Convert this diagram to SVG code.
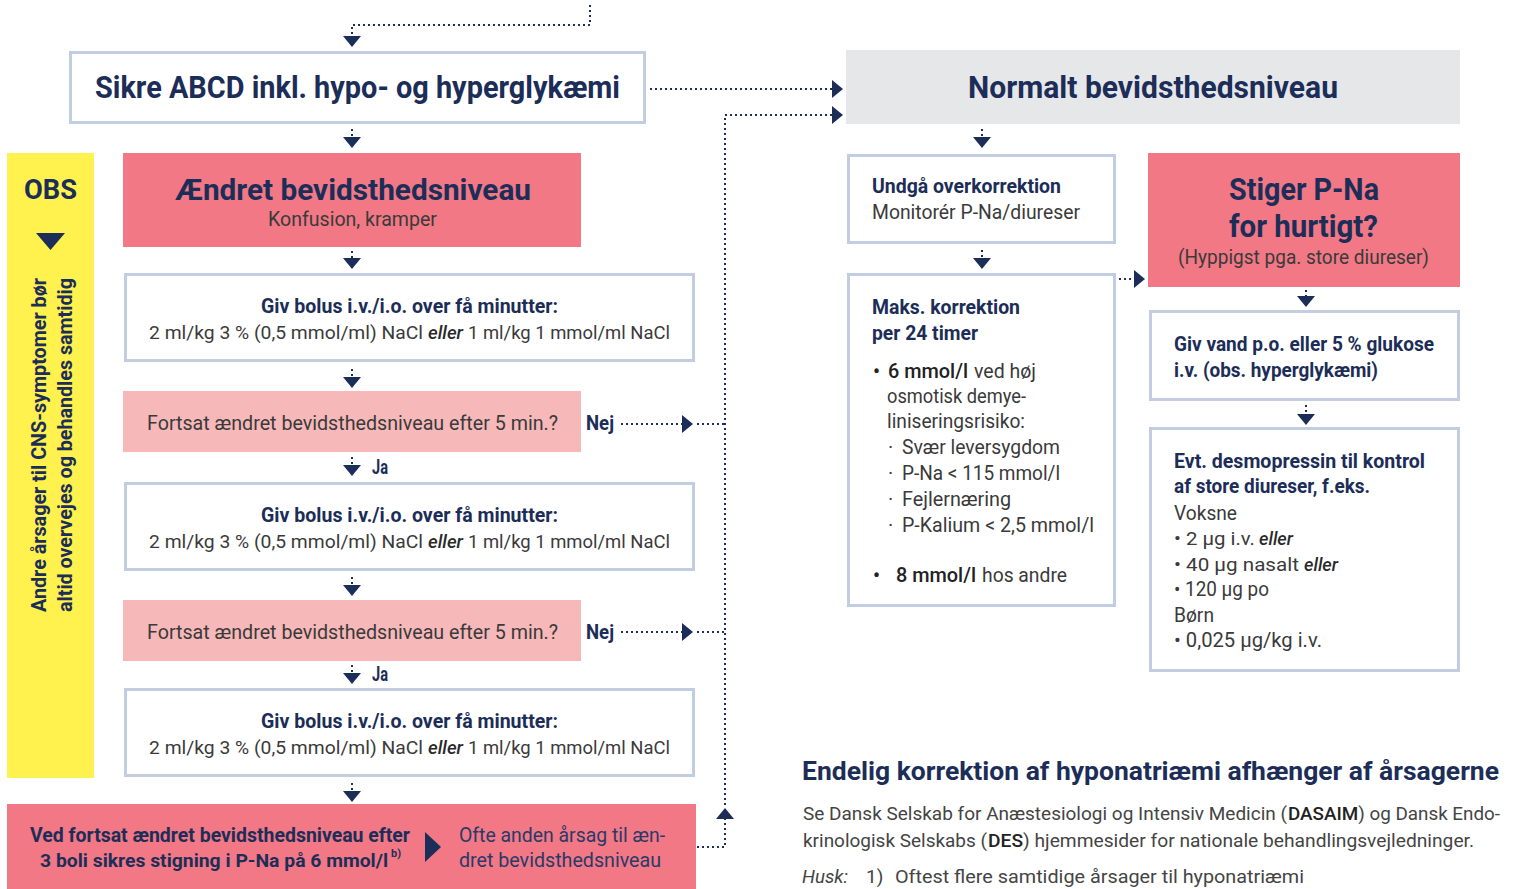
<svg xmlns="http://www.w3.org/2000/svg" width="1514" height="889" viewBox="0 0 1514 889">
<style>
text{font-family:Roboto,"Liberation Sans",sans-serif;}
.t{font-weight:700;fill:#1c2d58;}
.b{font-weight:700;fill:#1c2d58;font-size:20px;}
.n{font-weight:400;fill:#3a3a3a;font-size:20px;}
.s{font-weight:400;fill:#3a3a3a;font-size:19px;}
.i{font-style:italic;font-weight:500;fill:#2a2a2a;font-size:19px;}
.m{font-weight:500;fill:#222;font-size:20px;}
.g{font-weight:400;fill:#444;font-size:19px;}
.gm{font-weight:500;fill:#222;}
.box{fill:#fff;stroke:#c3cde2;stroke-width:3;}
.pink{fill:#f27885;}
.lpink{fill:#f7b8b9;}
.dot{fill:none;stroke:#1c2d58;stroke-width:2;stroke-dasharray:2 3;}
.tri{fill:#1c2d58;}
</style>
<defs>
<marker id="ah" viewBox="0 0 11 18" refX="0" refY="9" markerWidth="11" markerHeight="18" markerUnits="userSpaceOnUse" orient="auto" preserveAspectRatio="none">
<path d="M0,0 L11,9 L0,18 Z" fill="#1c2d58"/>
</marker>
</defs>
<rect width="1514" height="889" fill="#fff"/>

<g id="obs">
<rect x="7" y="153" width="87" height="625" fill="#fff24e"/>
<text x="24" y="199" class="t" font-size="28" textLength="53" lengthAdjust="spacingAndGlyphs">OBS</text>
<polygon class="tri" points="36,233 65,233 50.5,250"/>
<text transform="translate(46,612) rotate(-90)" class="b" textLength="334" lengthAdjust="spacingAndGlyphs">Andre årsager til CNS-symptomer bør</text>
<text transform="translate(72,612) rotate(-90)" class="b" textLength="334" lengthAdjust="spacingAndGlyphs">altid overvejes og behandles samtidig</text>
</g>

<g id="sikre">
<rect class="box" x="70.5" y="52.5" width="574" height="70"/>
<text x="95" y="98" class="t" font-size="31" textLength="525" lengthAdjust="spacingAndGlyphs">Sikre ABCD inkl. hypo- og hyperglykæmi</text>
</g>

<g id="aendret">
<rect class="pink" x="123" y="153" width="458" height="94"/>
<text x="175" y="200" class="t" font-size="29" textLength="356" lengthAdjust="spacingAndGlyphs">Ændret bevidsthedsniveau</text>
<text x="268" y="226" class="n" textLength="169" lengthAdjust="spacingAndGlyphs">Konfusion, kramper</text>
</g>

<g id="bolus1">
<rect class="box" x="125.5" y="274.5" width="568" height="86"/>
<text x="261" y="313" class="b" textLength="297" lengthAdjust="spacingAndGlyphs">Giv bolus i.v./i.o. over få minutter:</text>
<text x="149" y="339" class="s" textLength="274" lengthAdjust="spacingAndGlyphs">2 ml/kg 3 % (0,5 mmol/ml) NaCl</text>
<text x="428" y="339" class="i" textLength="35" lengthAdjust="spacingAndGlyphs">eller</text>
<text x="468" y="339" class="s" textLength="202" lengthAdjust="spacingAndGlyphs">1 ml/kg 1 mmol/ml NaCl</text>
</g>

<g id="fortsat1">
<rect class="lpink" x="123" y="391" width="458" height="61"/>
<text x="147" y="430" class="n" textLength="411" lengthAdjust="spacingAndGlyphs">Fortsat ændret bevidsthedsniveau efter 5 min.?</text>
</g>

<g id="bolus2">
<rect class="box" x="125.5" y="483.5" width="568" height="86"/>
<text x="261" y="522" class="b" textLength="297" lengthAdjust="spacingAndGlyphs">Giv bolus i.v./i.o. over få minutter:</text>
<text x="149" y="548" class="s" textLength="274" lengthAdjust="spacingAndGlyphs">2 ml/kg 3 % (0,5 mmol/ml) NaCl</text>
<text x="428" y="548" class="i" textLength="35" lengthAdjust="spacingAndGlyphs">eller</text>
<text x="468" y="548" class="s" textLength="202" lengthAdjust="spacingAndGlyphs">1 ml/kg 1 mmol/ml NaCl</text>
</g>

<g id="fortsat2">
<rect class="lpink" x="123" y="600" width="458" height="61"/>
<text x="147" y="639" class="n" textLength="411" lengthAdjust="spacingAndGlyphs">Fortsat ændret bevidsthedsniveau efter 5 min.?</text>
</g>

<g id="bolus3">
<rect class="box" x="125.5" y="689.5" width="568" height="86"/>
<text x="261" y="728" class="b" textLength="297" lengthAdjust="spacingAndGlyphs">Giv bolus i.v./i.o. over få minutter:</text>
<text x="149" y="754" class="s" textLength="274" lengthAdjust="spacingAndGlyphs">2 ml/kg 3 % (0,5 mmol/ml) NaCl</text>
<text x="428" y="754" class="i" textLength="35" lengthAdjust="spacingAndGlyphs">eller</text>
<text x="468" y="754" class="s" textLength="202" lengthAdjust="spacingAndGlyphs">1 ml/kg 1 mmol/ml NaCl</text>
</g>

<g id="final">
<rect class="pink" x="7" y="804" width="689" height="85"/>
<text x="30" y="842" class="b" textLength="380" lengthAdjust="spacingAndGlyphs">Ved fortsat ændret bevidsthedsniveau efter</text>
<text x="40" y="867" class="b" style="font-size:19px" textLength="348" lengthAdjust="spacingAndGlyphs">3 boli sikres stigning i P-Na på 6 mmol/l</text>
<text x="391" y="857" class="b" style="font-size:10px" textLength="10" lengthAdjust="spacingAndGlyphs">b)</text>
<polygon class="tri" points="425,832 441,847 425,862"/>
<text x="459" y="842" font-size="20" fill="#2a3a68" textLength="206" lengthAdjust="spacingAndGlyphs">Ofte anden årsag til æn-</text>
<text x="459" y="867" font-size="20" fill="#2a3a68" textLength="202" lengthAdjust="spacingAndGlyphs">dret bevidsthedsniveau</text>
</g>

<g id="normalt">
<rect x="846" y="50" width="614" height="74" fill="#e6e7e9"/>
<text x="968" y="98" class="t" font-size="31" textLength="370" lengthAdjust="spacingAndGlyphs">Normalt bevidsthedsniveau</text>
</g>

<g id="undgaa">
<rect class="box" x="848.5" y="155.5" width="266" height="87"/>
<text x="872" y="193" class="b" textLength="189" lengthAdjust="spacingAndGlyphs">Undgå overkorrektion</text>
<text x="872" y="219" class="n" textLength="208" lengthAdjust="spacingAndGlyphs">Monitorér P-Na/diureser</text>
</g>

<g id="maks">
<rect class="box" x="848.5" y="274.5" width="266" height="331"/>
<text x="872" y="314" class="b" textLength="148" lengthAdjust="spacingAndGlyphs">Maks. korrektion</text>
<text x="872" y="340" class="b" textLength="106" lengthAdjust="spacingAndGlyphs">per 24 timer</text>
<text x="873" y="378" class="m">•</text>
<text x="888" y="378" class="m" textLength="80" lengthAdjust="spacingAndGlyphs">6 mmol/l</text>
<text x="974" y="378" class="n" textLength="62" lengthAdjust="spacingAndGlyphs">ved høj</text>
<text x="887" y="403" class="n" textLength="139" lengthAdjust="spacingAndGlyphs">osmotisk demye-</text>
<text x="887" y="428" class="n" textLength="138" lengthAdjust="spacingAndGlyphs">liniseringsrisiko:</text>
<text x="888" y="454" class="n">·</text>
<text x="902" y="454" class="n" textLength="158" lengthAdjust="spacingAndGlyphs">Svær leversygdom</text>
<text x="888" y="480" class="n">·</text>
<text x="902" y="480" class="n" textLength="158" lengthAdjust="spacingAndGlyphs">P-Na &lt; 115 mmol/l</text>
<text x="888" y="506" class="n">·</text>
<text x="902" y="506" class="n" textLength="109" lengthAdjust="spacingAndGlyphs">Fejlernæring</text>
<text x="888" y="532" class="n">·</text>
<text x="902" y="532" class="n" textLength="192" lengthAdjust="spacingAndGlyphs">P-Kalium &lt; 2,5 mmol/l</text>
<text x="873" y="582" class="m">•</text>
<text x="896" y="582" class="m" textLength="80" lengthAdjust="spacingAndGlyphs">8 mmol/l</text>
<text x="982" y="582" class="n" textLength="85" lengthAdjust="spacingAndGlyphs">hos andre</text>
</g>

<g id="stiger">
<rect class="pink" x="1148" y="153" width="312" height="134"/>
<text x="1229" y="200" class="t" font-size="31" textLength="150" lengthAdjust="spacingAndGlyphs">Stiger P-Na</text>
<text x="1229" y="237" class="t" font-size="31" textLength="149" lengthAdjust="spacingAndGlyphs">for hurtigt?</text>
<text x="1178" y="264" class="n" textLength="251" lengthAdjust="spacingAndGlyphs">(Hyppigst pga. store diureser)</text>
</g>

<g id="givvand">
<rect class="box" x="1150.5" y="311.5" width="308" height="88"/>
<text x="1174" y="351" class="b" textLength="260" lengthAdjust="spacingAndGlyphs">Giv vand p.o. eller 5 % glukose</text>
<text x="1174" y="377" class="b" textLength="204" lengthAdjust="spacingAndGlyphs">i.v. (obs. hyperglykæmi)</text>
</g>

<g id="desmo">
<rect class="box" x="1150.5" y="428.5" width="308" height="242"/>
<text x="1174" y="468" class="b" textLength="251" lengthAdjust="spacingAndGlyphs">Evt. desmopressin til kontrol</text>
<text x="1174" y="493" class="b" textLength="196" lengthAdjust="spacingAndGlyphs">af store diureser, f.eks.</text>
<text x="1174" y="520" class="n" fill="#222" textLength="63" lengthAdjust="spacingAndGlyphs">Voksne</text>
<text x="1174" y="545" class="s" textLength="81" lengthAdjust="spacingAndGlyphs">• 2 µg i.v.</text>
<text x="1259" y="545" class="i" textLength="34" lengthAdjust="spacingAndGlyphs">eller</text>
<text x="1174" y="571" class="s" textLength="125" lengthAdjust="spacingAndGlyphs">• 40 µg nasalt</text>
<text x="1304" y="571" class="i" textLength="34" lengthAdjust="spacingAndGlyphs">eller</text>
<text x="1174" y="596" class="n" textLength="95" lengthAdjust="spacingAndGlyphs">• 120 µg po</text>
<text x="1174" y="622" class="n" fill="#222" textLength="40" lengthAdjust="spacingAndGlyphs">Børn</text>
<text x="1174" y="647" class="n" textLength="148" lengthAdjust="spacingAndGlyphs">• 0,025 µg/kg i.v.</text>
</g>

<g id="endelig">
<text x="802" y="780" class="t" font-size="26" textLength="697" lengthAdjust="spacingAndGlyphs">Endelig korrektion af hyponatriæmi afhænger af årsagerne</text>
<text x="803" y="820" class="g" textLength="484" lengthAdjust="spacingAndGlyphs">Se Dansk Selskab for Anæstesiologi og Intensiv Medicin (</text>
<text x="1288" y="820" class="g" textLength="212" lengthAdjust="spacingAndGlyphs"><tspan class="gm">DASAIM</tspan>) og Dansk Endo-</text>
<text x="803" y="847" class="g" textLength="184" lengthAdjust="spacingAndGlyphs">krinologisk Selskabs (</text>
<text x="988" y="847" class="g" textLength="486" lengthAdjust="spacingAndGlyphs"><tspan class="gm">DES</tspan>) hjemmesider for nationale behandlingsvejledninger.</text>
<text x="802" y="883" class="g" font-style="italic" textLength="46" lengthAdjust="spacingAndGlyphs">Husk:</text>
<text x="866" y="883" class="g">1)</text>
<text x="895" y="883" class="g" textLength="409" lengthAdjust="spacingAndGlyphs">Oftest flere samtidige årsager til hyponatriæmi</text>
</g>

<g id="connectors">
<path class="dot" d="M590,5 V25 H352 V36" marker-end="url(#ah)"/>
<path class="dot" d="M352,129 V137" marker-end="url(#ah)"/>
<path class="dot" d="M352,251 V258" marker-end="url(#ah)"/>
<path class="dot" d="M352,369 V377" marker-end="url(#ah)"/>
<path class="dot" d="M352,457 V465" marker-end="url(#ah)"/>
<path class="dot" d="M352,577 V585" marker-end="url(#ah)"/>
<path class="dot" d="M352,665 V673" marker-end="url(#ah)"/>
<path class="dot" d="M352,783 V791" marker-end="url(#ah)"/>
<path class="dot" d="M650,89 H832" marker-end="url(#ah)"/>
<path class="dot" d="M621,424 H682" marker-end="url(#ah)"/>
<path class="dot" d="M697,424 H725"/>
<path class="dot" d="M621,632 H682" marker-end="url(#ah)"/>
<path class="dot" d="M697,632 H725"/>
<path class="dot" d="M697,847 H725 V819" marker-end="url(#ah)"/>
<path class="dot" d="M725,805 V115 H832" marker-end="url(#ah)"/>
<path class="dot" d="M982,129 V137" marker-end="url(#ah)"/>
<path class="dot" d="M982,250 V258" marker-end="url(#ah)"/>
<path class="dot" d="M1119,279 H1134" marker-end="url(#ah)"/>
<path class="dot" d="M1306,290 V296" marker-end="url(#ah)"/>
<path class="dot" d="M1306,405 V414" marker-end="url(#ah)"/>
<text x="586" y="430" class="b" textLength="28" lengthAdjust="spacingAndGlyphs">Nej</text>
<text x="586" y="639" class="b" textLength="28" lengthAdjust="spacingAndGlyphs">Nej</text>
<text x="372" y="474" class="b" textLength="16" lengthAdjust="spacingAndGlyphs">Ja</text>
<text x="372" y="681" class="b" textLength="16" lengthAdjust="spacingAndGlyphs">Ja</text>
</g>
</svg>
